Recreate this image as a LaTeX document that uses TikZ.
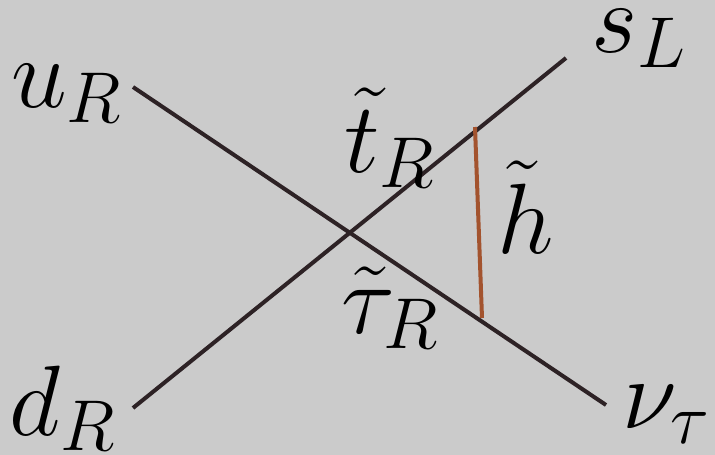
\documentclass[tikz,border=0pt]{standalone}
\usepackage{fix-cm}
\usepackage{xcolor}
\usepackage{tikz}
\usetikzlibrary{positioning, calc}
\definecolor{canvasgray}{HTML}{CBCBCB}
\definecolor{lineink}{HTML}{2D2225}
\definecolor{higgsbrown}{HTML}{A3532E}
\renewcommand\defaultscriptratio{.72}

\begin{document}
\begin{tikzpicture}[x=1pt, y=-1pt,
    particle/.style={draw=lineink, line width=4pt},
    scalar/.style={draw=higgsbrown, line width=4pt},
    label/.style={inner sep=0pt, anchor=base west, font=\fontsize{100}{115}\selectfont}]
  \fill[canvasgray] (0,0) rectangle (715,455);
  \useasboundingbox (0,0) rectangle (715,455);
  % end points of the two lines
  \coordinate (uR-end) at (133,87);
  \coordinate (nu-end) at (606,405);
  \coordinate (dR-end) at (133,408);
  \coordinate (sL-end) at (566,58);
  % the scalar line
  \coordinate (h-top) at (475,127);
  \coordinate (h-bot) at (482,318);
  \draw[particle] (uR-end) -- (nu-end);
  \draw[particle] (dR-end) -- (sL-end);
  \draw[scalar] (h-top) -- (h-bot);
  % labels
  \node[label] (uR) at (11,107) {$u_R$};
  \node[label] (sL) at (591,52) {$s_L$};
  \node[label] (tR) at (344,172) {$\tilde{t}_R$};
  \node[label] (ht) at (497,253) {$\tilde{h}$};
  \node[label] (tauR) at (341,333) {$\tilde{\tau}_R$};
  \node[label] (dR) at (9,435) {$d_R$};
  \node[label] (nu) at (622,428) {$\nu_\tau$};
\end{tikzpicture}
\end{document}
